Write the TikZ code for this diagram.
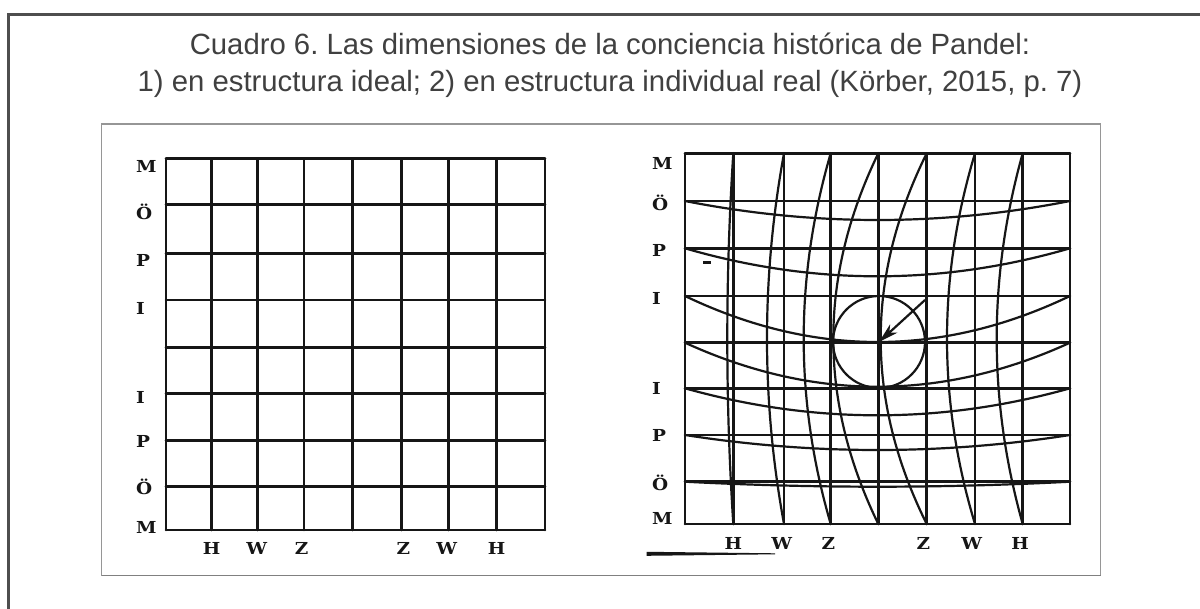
\documentclass[tikz,border=0pt]{standalone}
\usepackage{fontspec}
\usepackage{tikz}
\usetikzlibrary{arrows.meta}
\newfontfamily\titlefont{Liberation Sans}
\newfontfamily\labelfont{DejaVu Serif}
\frenchspacing
\definecolor{titlegray}{RGB}{64,64,64}
\definecolor{framegray}{RGB}{78,78,78}
\definecolor{boxgray}{RGB}{150,150,150}
\definecolor{ink}{RGB}{22,22,22}

\begin{document}
\begin{tikzpicture}[x=1pt,y=-1pt,
    gridline/.style={draw=ink,line width=2.6pt,line cap=round},
    warpline/.style={draw=ink,line width=2.2pt},
    axislabel/.style={font=\labelfont\bfseries\fontsize{16.5}{16.5}\selectfont,text=ink,inner sep=0pt,xscale=1.12},
    rowlabel/.style={axislabel,anchor=west},
    titleline/.style={font=\titlefont\fontsize{29.3}{35}\selectfont,text=titlegray,anchor=base,inner sep=0pt}]
  \useasboundingbox (0,0) rectangle (1200,609);
  \fill[white] (0,0) rectangle (1200,609);
  \path[draw=framegray,line width=2.7pt] (8.3,609) -- (8.3,14.3) -- (1200,14.3);

  \node[titleline] (title1) at (610,55) {Cuadro 6. Las dimensiones de la conciencia histórica de Pandel:};
  \node[titleline] (title2) at (610,92) {1) en estructura ideal; 2) en estructura individual real (Körber, 2015, p. 7)};

  \path[draw=boxgray,line width=1.2pt] (101.7,124) rectangle (1100.7,575.5);
  \path[draw=gray,line width=1.8pt] (101.7,575.5) -- (1100.7,575.5);

  % ideal structure
  \foreach \gx in {166,211.7,257.3,304,352.3,401.7,448.3,496.7,545} {
    \path[gridline] (\gx,158.5) -- (\gx,530);
  }
  \foreach \gy in {158.5,204.3,253.3,300,347.3,393.3,440.7,486.7,530} {
    \path[gridline] (166,\gy) -- (545,\gy);
  }
  \foreach \lab/\ly [count=\k] in {M/166.7,Ö/212,P/260,I/308,I/397,P/441.7,Ö/487,M/527} {
    \node[rowlabel] (lrow\k) at (136,\ly) {\lab};
  }
  \foreach \lab/\lx [count=\k] in {H/211.7,W/256.7,Z/301.7,Z/403.3,W/446.7,H/496.7} {
    \node[axislabel] (lcol\k) at (\lx,548.3) {\lab};
  }

  % real individual structure
  \foreach \gx in {685,733.3,784,830.7,878.3,926.7,975,1022.7,1070} {
    \path[gridline] (\gx,153.3) -- (\gx,524);
  }
  \foreach \gy in {153.3,201,248.3,296,342.7,388.3,435,481.7,524} {
    \path[gridline] (685,\gy) -- (1070,\gy);
  }
  \foreach \vx/\bow in {733.3/6,784/17,830.7/27,878.3/45,926.7/46,975/28,1022.7/26} {
    \path[warpline] (\vx,153.3) .. controls ({\vx-4*\bow/3},277) and ({\vx-4*\bow/3},400.6) .. (\vx,524);
  }
  \foreach \hy/\sag in {201/19,248.3/28,296/46,342.7/44,388.3/27,435/15,481.7/5} {
    \path[warpline] (685,\hy) .. controls (813.3,{\hy+4*\sag/3}) and (941.7,{\hy+4*\sag/3}) .. (1070,\hy);
  }
  \node[circle,draw=ink,line width=2.2pt,minimum size=92pt,inner sep=0pt] (focus) at (879,342) {};
  \coordinate (pointer) at (925,300);
  \path[draw=ink,line width=2.2pt,-{Stealth[length=20pt,width=11pt,inset=6pt]}] (pointer) -- (focus.center);

  \foreach \lab/\ly [count=\k] in {M/163.3,Ö/203.3,P/250,I/298.3,I/388.3,P/435,Ö/483.3,M/518.3} {
    \node[rowlabel] (rrow\k) at (652,\ly) {\lab};
  }
  \foreach \lab/\lx [count=\k] in {H/733.3,W/781.7,Z/828.3,Z/923.3,W/971.7,H/1020} {
    \node[axislabel] (rcol\k) at (\lx,543.3) {\lab};
  }
  \fill[ink] (646.7,551.8) -- (775,553.3) -- (775,554.3) -- (646.7,555.8) -- cycle;
  \fill[ink] (703,261.5) rectangle (711,264.5);
\end{tikzpicture}
\end{document}
